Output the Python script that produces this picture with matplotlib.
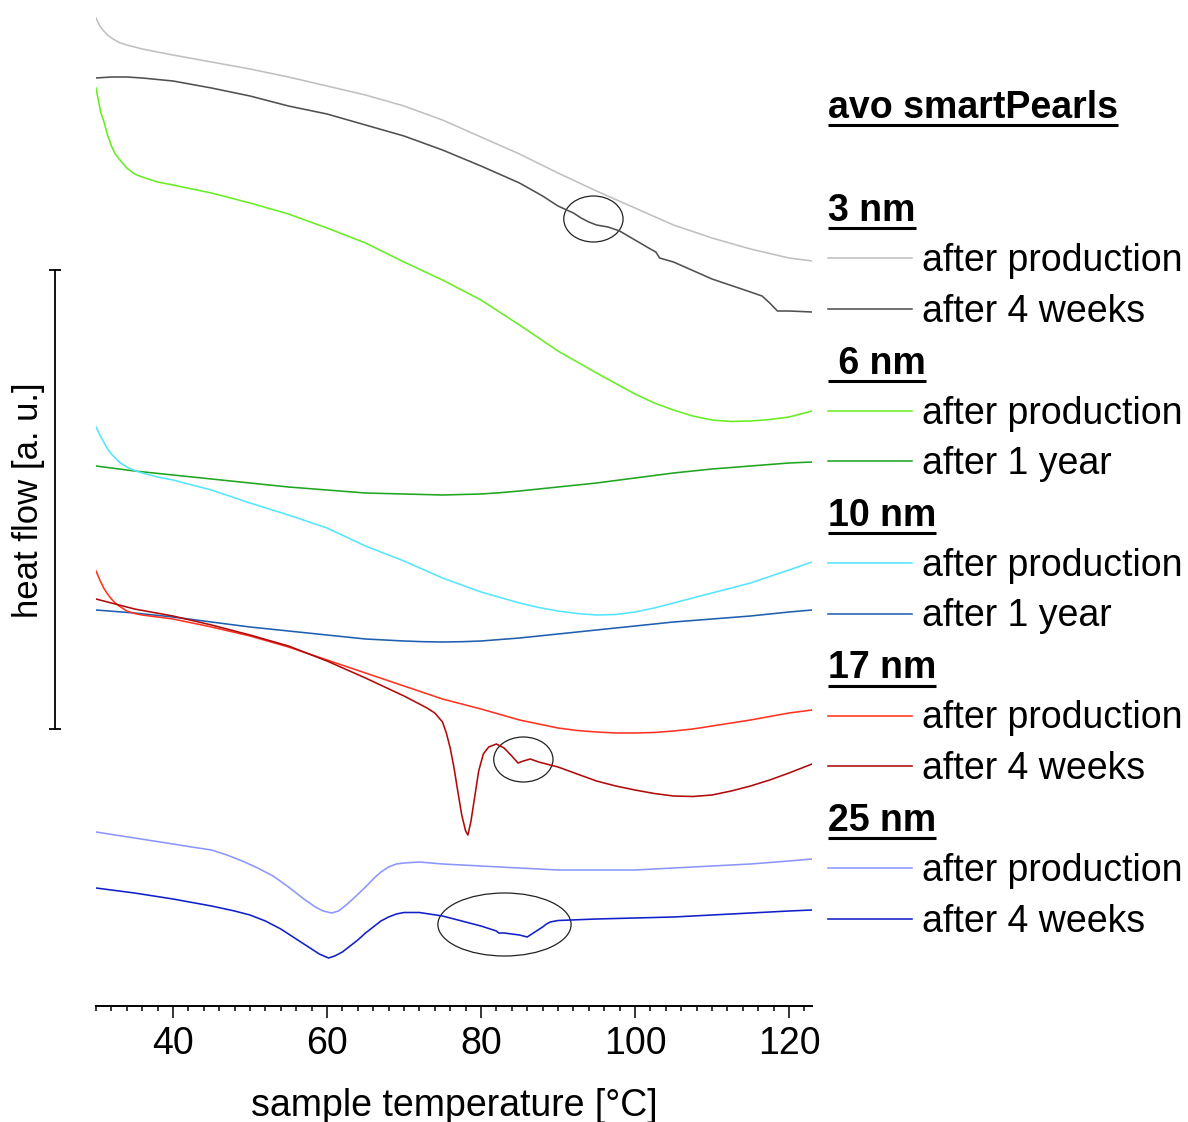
"""DSC heating curves of avo smartPearls at different pore sizes and storage times."""

import matplotlib

matplotlib.use("Agg")
import matplotlib.pyplot as plt
from matplotlib.lines import Line2D
from matplotlib.patches import Ellipse
from matplotlib.ticker import MultipleLocator

plt.rcParams["font.family"] = ["Liberation Sans", "DejaVu Sans"]

# sample temperature [°C] and heat flow [a.u., curves offset for clarity]
t_3nm_prod = [30, 30.5, 31, 31.5, 32, 33, 34, 35, 36, 38, 40, 45, 50, 55, 60, 65, 70, 75, 80, 85, 90, 95, 100, 105,
              110, 115, 120, 123]
hf_3nm_prod = [-18, -26, -31, -35, -38, -42.5, -45, -47, -49, -52, -55, -62, -69, -77, -86, -95, -106, -120, -137,
               -154, -173, -191, -208, -225, -238, -249, -258, -261]

t_3nm_4w = [30, 32, 34, 36, 38, 40, 45, 50, 55, 60, 65, 70, 75, 80, 85, 88, 90, 92, 93, 94, 95, 96.5, 98, 100, 102,
            102.7, 103.2, 105, 110, 115, 116.5, 117.5, 118.5, 120, 123]
hf_3nm_4w = [-78, -77, -77, -78, -79.5, -81, -88, -96, -106, -114, -125, -136, -150, -166, -183, -196, -206, -213,
             -218, -222, -225, -227, -231, -240, -249, -252, -258, -262, -279, -292, -296, -303, -311, -311, -312]

t_6nm_prod = [30, 30.3, 30.6, 31, 31.5, 32, 32.5, 33, 34, 35, 36, 38, 40, 45, 50, 55, 60, 65, 70, 75, 80, 85, 90, 95,
              100, 102.5, 105, 107.5, 110, 112.5, 115, 117.5, 120, 123]
hf_6nm_prod = [-88, -100, -112, -121, -135, -146, -154, -159, -168, -174, -177, -182, -185, -193, -203, -214, -228,
               -243, -262, -280, -300, -325, -351, -373, -394, -403, -410, -416, -420, -421.5, -421, -419.5, -417,
               -411]

t_6nm_1y = [30, 35, 40, 45, 50, 55, 60, 62.5, 65, 67.5, 70, 72.5, 75, 77.5, 80, 82.5, 85, 90, 95, 100, 105, 110, 115,
            120, 123]
hf_6nm_1y = [-466, -471, -475, -479, -483, -487, -490, -491.5, -493, -493.5, -494, -494.5, -495, -494.5, -494, -492.7,
             -491, -487, -483, -478, -473, -469, -466, -463, -462]

t_10nm_prod = [30, 30.5, 31, 31.5, 32, 32.5, 33, 34, 35, 36, 38, 40, 45, 50, 55, 60, 65, 70, 75, 80, 85, 87.5, 90,
               92.5, 95, 97.5, 100, 102.5, 105, 110, 115, 120, 123]
hf_10nm_prod = [-427, -435, -442, -449, -454, -458, -462, -467, -470.5, -473, -477, -480, -490, -503, -515, -528,
                -546, -561, -578, -592, -603, -607.5, -611, -613.5, -615, -614.5, -612, -608, -603, -593, -583, -570,
                -562]

t_10nm_1y = [30, 35, 40, 45, 50, 55, 60, 65, 70, 72.5, 75, 77.5, 80, 85, 90, 95, 100, 105, 110, 115, 120, 123]
hf_10nm_1y = [-610, -613, -617, -622, -627, -631, -635, -639, -641, -641.7, -642, -641.7, -641, -638, -634, -630,
              -626, -622, -619, -616, -612, -610]

t_17nm_prod = [30, 30.5, 31, 31.5, 32, 32.5, 33, 34, 35, 36, 38, 40, 45, 50, 55, 60, 65, 70, 75, 80, 85, 90, 92.5, 95,
               97.5, 100, 102.5, 105, 107.5, 110, 115, 120, 123]
hf_17nm_prod = [-571, -580, -588, -594, -599, -603, -606, -611, -613.5, -615, -617, -619, -627, -636, -647, -660,
                -673, -686, -699, -709, -720, -728, -730.5, -732, -733, -733, -732.5, -731, -729, -726, -720, -713,
                -710]

t_17nm_4w = [30, 35, 40, 45, 50, 55, 60, 65, 70, 73, 74, 75, 75.5, 76, 76.5, 77, 77.5, 78, 78.3, 78.7, 79.2, 79.7,
             80.3, 81, 82, 83, 84, 84.8, 85.5, 86.4, 87.5, 90, 92.5, 95, 97.5, 100, 102.5, 105, 107.5, 110, 112.5,
             115, 117.5, 120, 123]
hf_17nm_4w = [-599, -609, -616, -625, -635, -646, -661, -678, -696, -708, -713, -722, -733, -748, -768, -792, -815,
              -831, -835, -821, -796, -771, -754, -747, -744, -748, -756, -763, -761, -759, -762, -767, -774, -781,
              -786, -790, -793.5, -796, -796.5, -795, -791, -786, -780, -773, -764]

t_25nm_prod = [30, 35, 40, 42, 45, 47, 49, 51, 53, 55, 57, 58.5, 59.5, 60.6, 61.5, 62.5, 63.5, 65, 66, 67, 68, 69,
               70, 72, 75, 80, 85, 90, 95, 100, 105, 110, 115, 120, 123]
hf_25nm_prod = [-832, -838, -844, -846.5, -850, -855, -861, -868, -876, -887, -899, -907, -911, -913, -911, -905,
                -898, -887, -879, -872, -867, -864, -863, -862, -864, -866, -868, -870, -870, -870, -868, -866, -864,
                -861, -859]

t_25nm_4w = [30, 35, 40, 45, 48, 50, 52, 54, 56, 58, 59, 60.2, 61, 62, 63, 64, 65, 66, 67, 68, 69, 70, 72, 75, 78,
             80, 82, 82.3, 83, 85, 86, 87, 88, 88.5, 89, 90, 95, 100, 105, 110, 115, 120, 123]
hf_25nm_4w = [-888, -893, -899, -906, -911, -915, -921, -929, -939, -949, -954, -958, -956, -952, -946, -940, -933,
              -927, -921, -917, -914, -912.5, -912.5, -916, -922, -926, -931, -933, -933, -935, -937, -932, -927,
              -924, -922, -920.5, -919, -918, -917, -915, -913, -911, -910]

groups = ["3 nm", " 6 nm", "10 nm", "17 nm", "25 nm"]
entry_labels = ["after production", "after 4 weeks", "after production", "after 1 year", "after production",
                "after 1 year", "after production", "after 4 weeks", "after production", "after 4 weeks"]
colors = ["#c0c0c0", "#505050", "#66ee22", "#1fa51f", "#55e5ff", "#1f5faf", "#ff3322", "#b00a0a", "#8c96ff",
          "#1020c8"]
series = [(t_3nm_prod, hf_3nm_prod), (t_3nm_4w, hf_3nm_4w), (t_6nm_prod, hf_6nm_prod), (t_6nm_1y, hf_6nm_1y),
          (t_10nm_prod, hf_10nm_prod), (t_10nm_1y, hf_10nm_1y), (t_17nm_prod, hf_17nm_prod),
          (t_17nm_4w, hf_17nm_4w), (t_25nm_prod, hf_25nm_prod), (t_25nm_4w, hf_25nm_4w)]

# regions of interest (centre T, centre heat flow, width, height)
marked = [(94.6, -219, 7.7, 46), (85.5, -759.5, 7.7, 45), (83.05, -924.5, 17.3, 63)]

W, H = 1188, 1122
fig = plt.figure(figsize=(W / 100, H / 100), dpi=100)
ax = fig.add_axes([96 / W, 116 / H, 716 / W, 1006 / H])

for (t, hf), c in zip(series, colors):
    ax.plot(t, hf, color=c, lw=1.15)

for cx, cy, w, h in marked:
    ax.add_patch(Ellipse((cx, cy), w, h, fill=False, ec="#222222", lw=0.9))

ax.set_xlim(30, 30 + 716 / 7.7)
ax.set_ylim(-1006, 0)
for side in ("left", "top", "right"):
    ax.spines[side].set_visible(False)
ax.spines["bottom"].set_linewidth(1.4)
ax.set_yticks([])
ax.xaxis.set_major_locator(MultipleLocator(20))
ax.xaxis.set_minor_locator(MultipleLocator(2))
ax.tick_params(axis="x", which="major", length=8.5, width=1.1, labelsize=27, pad=6)
ax.tick_params(axis="x", which="minor", length=3.6, width=1.1)

ax.set_xlabel("sample temperature [°C]", fontsize=27)
ax.xaxis.set_label_coords(0.5, -(1106 - 1006) / 1006)
ax.xaxis.label.set_va("center")

# scale bar for the heat flow axis
bar_x = 30 - 41 / 7.7
ax.plot([bar_x, bar_x], [-270, -729], color="k", lw=1.3, clip_on=False)
ax.plot([bar_x, bar_x], [-270, -729], ls="none", marker="_", ms=9, mew=1.3, color="k", clip_on=False)
fig.text(29 / W, 1 - 500 / H, "heat flow [a. u.]", rotation=90, ha="center", va="center", fontsize=25)

# legend, drawn by hand: bold underlined headings and line samples
heads = [fig.text(828 / W, 1 - 118 / H, "avo smartPearls", fontsize=27, fontweight="bold", va="baseline")]
for g, name in enumerate(groups):
    y0 = 221 + 152.5 * g
    heads.append(fig.text(828 / W, 1 - y0 / H, name, fontsize=27, fontweight="bold", va="baseline"))
    for k in range(2):
        i = 2 * g + k
        ly = y0 + 37 + 50.5 * k
        fig.add_artist(Line2D([828 / W, 912 / W], [1 - ly / H] * 2, color=colors[i], lw=1.15))
        fig.text(922 / W, 1 - (ly + 13) / H, entry_labels[i], fontsize=27, va="baseline")

fig.canvas.draw()
renderer = fig.canvas.get_renderer()
for txt in heads:
    bb = txt.get_window_extent(renderer)
    base = txt.get_position()[1] * H
    uy = (base - 7) / H
    fig.add_artist(Line2D([bb.x0 / W, bb.x1 / W], [uy, uy], color="k", lw=2.2, solid_capstyle="butt"))

fig.savefig("out.png", dpi=100)
